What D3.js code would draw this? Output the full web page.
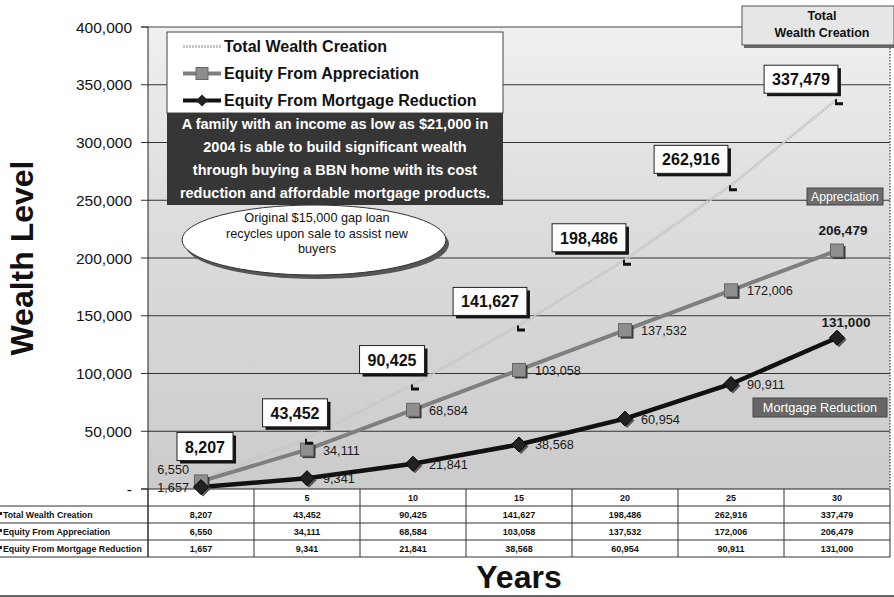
<!DOCTYPE html>
<html>
<head>
<meta charset="utf-8">
<script src="https://cdn.jsdelivr.net/npm/d3@7"></script>
<style>
  body { margin: 0; background: #fff; }
  svg { display: block; }
  text { font-family: Arial, "Liberation Sans", sans-serif; }
</style>
</head>
<body>
<svg id="chart" width="894" height="597"></svg>
<script>
// ---- data ----
const years = [0, 5, 10, 15, 20, 25, 30];
const yearLabels = ["", "5", "10", "15", "20", "25", "30"];
const totalWealth = [8207, 43452, 90425, 141627, 198486, 262916, 337479];
const appreciation = [6550, 34111, 68584, 103058, 137532, 172006, 206479];
const mortgageReduction = [1657, 9341, 21841, 38568, 60954, 90911, 131000];
const seriesNames = ["Total Wealth Creation", "Equity From Appreciation", "Equity From Mortgage Reduction"];
const yTicks = [0, 50000, 100000, 150000, 200000, 250000, 300000, 350000, 400000];
const noteLines = [
  "A family with an income as low as $21,000 in",
  "2004 is able to build significant wealth",
  "through buying a BBN home with its cost",
  "reduction and affordable mortgage products."
];
const loanNote = ["Original $15,000 gap loan", "recycles upon sale to assist new", "buyers"];

// ---- layout ----
const svg = d3.select("#chart");
const plotL = 148, plotR = 890, plotT = 27, plotB = 489;
const x = d3.scaleBand().domain(years).range([plotL, plotR]);
const cx = i => x(years[i]) + x.bandwidth() / 2;
const y = d3.scaleLinear().domain([0, 400000]).range([plotB, plotT]);
const fmt = d3.format(",");

const defs = svg.append("defs");
const bg = defs.append("linearGradient").attr("id", "bg").attr("x1", 0).attr("y1", 0).attr("x2", 0).attr("y2", 1);
bg.append("stop").attr("offset", 0).attr("stop-color", "#f0f0f0");
bg.append("stop").attr("offset", 0.35).attr("stop-color", "#dfdfdf");
bg.append("stop").attr("offset", 1).attr("stop-color", "#cbcbcb");

// plot background
svg.append("rect").attr("x", plotL).attr("y", plotT).attr("width", plotR - plotL).attr("height", plotB - plotT)
  .attr("fill", "url(#bg)");

// horizontal gridlines
svg.append("g").selectAll("line").data(yTicks.filter(t => t > 0 && t < 400000)).join("line")
  .attr("x1", plotL).attr("x2", plotR).attr("y1", d => y(d)).attr("y2", d => y(d))
  .attr("stroke", "#333").attr("stroke-width", 1);

// top border and right dotted border
svg.append("line").attr("x1", 141).attr("x2", 742).attr("y1", y(400000)).attr("y2", y(400000))
  .attr("stroke", "#444").attr("stroke-width", 1);
svg.append("line").attr("x1", plotR).attr("x2", plotR).attr("y1", 45).attr("y2", plotB)
  .attr("stroke", "#444").attr("stroke-width", 1.2).attr("stroke-dasharray", "1.5 1.5");

// y axis ticks and labels
svg.append("g").selectAll("line").data(yTicks).join("line")
  .attr("x1", 141).attr("x2", plotL).attr("y1", d => y(d)).attr("y2", d => y(d))
  .attr("stroke", "#333");
svg.append("g").selectAll("text").data(yTicks).join("text")
  .attr("x", 132).attr("y", d => y(d) + 5.5).attr("text-anchor", "end")
  .attr("font-size", 15.5).attr("fill", "#111")
  .text(d => d === 0 ? "-" : fmt(d));
svg.append("line").attr("x1", plotL).attr("x2", plotL).attr("y1", plotT).attr("y2", 557)
  .attr("stroke", "#222");

// data table under the axis
const rowH = 17;
const rows = [totalWealth, appreciation, mortgageReduction];
svg.append("line").attr("x1", 141).attr("x2", plotR).attr("y1", plotB).attr("y2", plotB).attr("stroke", "#222");
svg.append("g").selectAll("line").data([1, 2, 3, 4]).join("line")
  .attr("x1", 0).attr("x2", plotR).attr("y1", k => plotB + k * rowH).attr("y2", k => plotB + k * rowH)
  .attr("stroke", "#333");
svg.append("g").selectAll("line").data(years.map(d => x(d)).concat([plotR])).join("line")
  .attr("x1", d => d).attr("x2", d => d).attr("y1", plotB).attr("y2", plotB + 4 * rowH)
  .attr("stroke", "#333");
svg.append("g").selectAll("text").data(yearLabels).join("text")
  .attr("x", (d, i) => cx(i)).attr("y", plotB + 12).attr("text-anchor", "middle")
  .attr("font-size", 9).attr("font-weight", "bold").attr("fill", "#111").text(d => d);
rows.forEach((vals, r) => {
  const ry = plotB + (r + 1) * rowH;
  svg.append("text").attr("x", 3).attr("y", ry + 12).attr("font-size", 8.8).attr("font-weight", "bold")
    .attr("fill", "#111").text(seriesNames[r]);
  svg.append("rect").attr("x", 0).attr("y", ry + 6).attr("width", 2).attr("height", 3).attr("fill", "#222");
  svg.append("g").selectAll("text").data(vals).join("text")
    .attr("x", (d, i) => cx(i)).attr("y", ry + 12).attr("text-anchor", "middle")
    .attr("font-size", 9).attr("font-weight", "bold").attr("fill", "#111").text(d => fmt(d));
});

// series lines
const line = d3.line().x((d, i) => cx(i)).y(d => y(d));
svg.append("path").datum(totalWealth).attr("d", line).attr("fill", "none")
  .attr("stroke", "#c6c6c6").attr("stroke-width", 3).attr("stroke-dasharray", "2 1");
svg.append("path").datum(appreciation).attr("d", line).attr("fill", "none")
  .attr("stroke", "#7f7f7f").attr("stroke-width", 4);
svg.append("path").datum(mortgageReduction).attr("d", line).attr("fill", "none")
  .attr("stroke", "#111").attr("stroke-width", 4.5);

// markers
const sq = 13;
appreciation.forEach((v, i) => {
  svg.append("rect").attr("x", cx(i) - sq / 2 + 2).attr("y", y(v) - sq / 2 + 2).attr("width", sq).attr("height", sq).attr("fill", "#3a3a3a");
  svg.append("rect").attr("x", cx(i) - sq / 2).attr("y", y(v) - sq / 2).attr("width", sq).attr("height", sq)
    .attr("fill", "#8e8e8e").attr("stroke", "#666");
});
const diamond = (px, py, r) => `M${px},${py - r}L${px + r},${py}L${px},${py + r}L${px - r},${py}Z`;
mortgageReduction.forEach((v, i) => {
  svg.append("path").attr("d", diamond(cx(i) + 2, y(v) + 2, 7.5)).attr("fill", "#555");
  svg.append("path").attr("d", diamond(cx(i), y(v), 7.5)).attr("fill", "#222").attr("stroke", "#000");
});
totalWealth.forEach((v, i) => {
  if (i === 0) return;
  const px = cx(i) + 2, py = y(v) + 3;
  svg.append("path").attr("d", `M${px - 4},${py - 3}L${px - 2},${py - 3}L${px - 2},${py}L${px + 4},${py}L${px + 4},${py + 3}L${px - 4},${py + 3}Z`)
    .attr("fill", "#111");
});

// value labels for the two equity series
appreciation.forEach((v, i) => {
  const t = svg.append("text").attr("font-size", 12.7).attr("fill", "#1a1a1a").text(fmt(v));
  if (i === 0) t.attr("x", 189).attr("y", y(v) - 7).attr("text-anchor", "end");
  else if (i === years.length - 1) t.attr("x", cx(i) + 6).attr("y", y(v) - 16).attr("text-anchor", "middle").attr("font-weight", "bold").attr("font-size", 13.5);
  else t.attr("x", cx(i) + 16).attr("y", y(v) + 5);
});
mortgageReduction.forEach((v, i) => {
  const t = svg.append("text").attr("font-size", 12.7).attr("fill", "#1a1a1a").text(fmt(v));
  if (i === 0) t.attr("x", 189).attr("y", y(v) + 5).attr("text-anchor", "end");
  else if (i === years.length - 1) t.attr("x", cx(i) + 9).attr("y", y(v) - 11).attr("text-anchor", "middle").attr("font-weight", "bold").attr("font-size", 13.5);
  else t.attr("x", cx(i) + 16).attr("y", y(v) + 5);
});

// boxed callouts for total wealth, placed up-left of each point
const tagNudge = [[4, -33], [-12, -26], [-21, -25], [-29, -24], [-36, -22], [-40, -26], [-36, -20]];
totalWealth.forEach((v, i) => {
  const gx = cx(i) + tagNudge[i][0], gy = y(v) + tagNudge[i][1];
  const g = svg.append("g");
  const shadow = g.append("rect").attr("fill", "#151515");
  const box = g.append("rect").attr("fill", "#fdfdfd").attr("stroke", "#222");
  const t = g.append("text").attr("x", gx).attr("y", gy + 6).attr("text-anchor", "middle")
    .attr("font-size", 16).attr("font-weight", "bold").attr("fill", "#111").text(fmt(v));
  const w = t.node().getComputedTextLength() + 16, h = 28;
  box.attr("x", gx - w / 2).attr("y", gy - h / 2).attr("width", w).attr("height", h);
  shadow.attr("x", gx - w / 2 + 3).attr("y", gy - h / 2 + 3).attr("width", w).attr("height", h);
});

// legend
const lg = svg.append("g");
lg.append("rect").attr("x", 167).attr("y", 32).attr("width", 336).attr("height", 81)
  .attr("fill", "#fff").attr("stroke", "#444");
const legY = [46.5, 73.5, 100.5];
lg.append("line").attr("x1", 183).attr("x2", 221).attr("y1", legY[0]).attr("y2", legY[0])
  .attr("stroke", "#c6c6c6").attr("stroke-width", 3).attr("stroke-dasharray", "2 1");
lg.append("line").attr("x1", 183).attr("x2", 221).attr("y1", legY[1]).attr("y2", legY[1])
  .attr("stroke", "#7f7f7f").attr("stroke-width", 4);
lg.append("rect").attr("x", 196).attr("y", legY[1] - 6).attr("width", 12).attr("height", 12)
  .attr("fill", "#8e8e8e").attr("stroke", "#666");
lg.append("line").attr("x1", 183).attr("x2", 221).attr("y1", legY[2]).attr("y2", legY[2])
  .attr("stroke", "#111").attr("stroke-width", 4);
lg.append("path").attr("d", diamond(202, legY[2], 6)).attr("fill", "#222");
lg.selectAll("text").data(seriesNames).join("text")
  .attr("x", 224).attr("y", (d, i) => legY[i] + 5.5)
  .attr("font-size", 16).attr("font-weight", "bold").attr("fill", "#111").text(d => d);

// dark explanatory box
svg.append("rect").attr("x", 167).attr("y", 113).attr("width", 336).attr("height", 92).attr("fill", "#363636");
svg.append("g").selectAll("text").data(noteLines).join("text")
  .attr("x", 335).attr("y", (d, i) => 129 + i * 23).attr("text-anchor", "middle")
  .attr("font-size", 14.5).attr("font-weight", "bold").attr("fill", "#fff").text(d => d);

// gap loan ellipse
svg.append("ellipse").attr("cx", 317).attr("cy", 244).attr("rx", 132).attr("ry", 35).attr("fill", "#555");
svg.append("ellipse").attr("cx", 314).attr("cy", 240).attr("rx", 132).attr("ry", 35)
  .attr("fill", "#fff").attr("stroke", "#333");
svg.append("g").selectAll("text").data(loanNote).join("text")
  .attr("x", 317).attr("y", (d, i) => 222 + i * 15.5).attr("text-anchor", "middle")
  .attr("font-size", 12.7).attr("fill", "#111").text(d => d);

// region labels
svg.append("rect").attr("x", 744).attr("y", 9).attr("width", 152).attr("height", 39).attr("fill", "#666");
svg.append("rect").attr("x", 742).attr("y", 6).attr("width", 152).attr("height", 39)
  .attr("fill", "#e6e6e6").attr("stroke", "#555");
svg.append("text").attr("x", 822).attr("y", 19.5).attr("text-anchor", "middle")
  .attr("font-size", 12.5).attr("font-weight", "bold").attr("fill", "#111").text("Total");
svg.append("text").attr("x", 822).attr("y", 36.5).attr("text-anchor", "middle")
  .attr("font-size", 12.5).attr("font-weight", "bold").attr("fill", "#111").text("Wealth Creation");

svg.append("rect").attr("x", 807).attr("y", 188).attr("width", 76).attr("height", 17)
  .attr("fill", "#6e6e6e").attr("stroke", "#444");
svg.append("text").attr("x", 845).attr("y", 201).attr("text-anchor", "middle")
  .attr("font-size", 12.2).attr("fill", "#fff").text("Appreciation");
svg.append("rect").attr("x", 753).attr("y", 398).attr("width", 134).attr("height", 19)
  .attr("fill", "#666").attr("stroke", "#444");
svg.append("text").attr("x", 820).attr("y", 412).attr("text-anchor", "middle")
  .attr("font-size", 12.7).attr("fill", "#fff").text("Mortgage Reduction");

// axis titles
svg.append("text").attr("transform", "translate(33,258) rotate(-90)").attr("text-anchor", "middle")
  .attr("font-size", 32).attr("font-weight", "bold").attr("fill", "#111").text("Wealth Level");
svg.append("text").attr("x", 519).attr("y", 588).attr("text-anchor", "middle")
  .attr("font-size", 32).attr("font-weight", "bold").attr("fill", "#111").text("Years");
svg.append("line").attr("x1", 0).attr("x2", 894).attr("y1", 596).attr("y2", 596)
  .attr("stroke", "#333").attr("stroke-width", 1.5);
</script>
</body>
</html>
